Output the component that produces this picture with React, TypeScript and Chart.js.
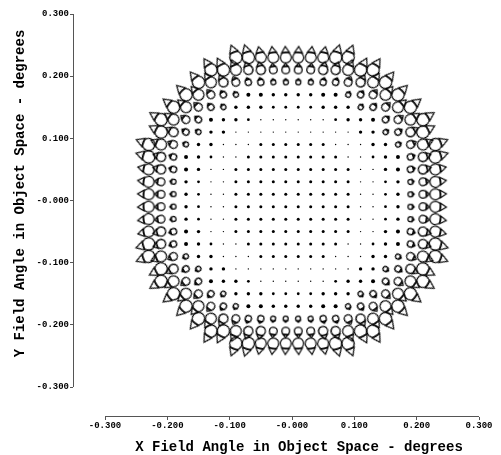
import { useEffect, useRef } from "react";
import { Chart, registerables } from "chart.js";

Chart.register(...registerables);

// Field points (degrees) of the spot-diagram grid
const fieldCols = [
  -0.23, -0.21, -0.19, -0.17, -0.15, -0.13, -0.11, -0.09, -0.07, -0.05, -0.03, -0.01,
  0.01, 0.03, 0.05, 0.07, 0.09, 0.11, 0.13, 0.15, 0.17, 0.19, 0.21, 0.23,
];
const fieldRows = [
  0.23, 0.21, 0.19, 0.17, 0.15, 0.13, 0.11, 0.09, 0.07, 0.05, 0.03, 0.01,
  -0.01, -0.03, -0.05, -0.07, -0.09, -0.11, -0.13, -0.15, -0.17, -0.19, -0.21, -0.23,
];
// largest |x| field value present in each row (same order as fieldRows)
const rowHalfWidth = [
  0.09, 0.13, 0.15, 0.17, 0.19, 0.21, 0.21, 0.23, 0.23, 0.23, 0.23, 0.23,
  0.23, 0.23, 0.23, 0.23, 0.23, 0.21, 0.21, 0.19, 0.17, 0.15, 0.13, 0.09,
];

// Spot appearance by field radius band (upper bound of band, degrees)
const bandUpper = [0.11, 0.145, 0.155, 0.175, 0.185, 0.195, 0.205, 0.215, 0.225, 0.237, 0.26];
const bandSpotRadius = [1.5, 0.7, 1.4, 1.7, 2.0, 2.5, 3.1, 3.8, 4.6, 5.5, 6.2];
const bandTailLength = [0, 0, 0, 0, 0, 1.2, 1.8, 2.6, 3.8, 5.5, 7.0];
const bandOpenRing = [false, false, false, false, false, true, true, true, true, true, true];

const xTickValues = [-0.3, -0.2, -0.1, 0, 0.1, 0.2, 0.3];
const xTickLabels = ["-0.300", "-0.200", "-0.100", "-0.000", "0.100", "0.200", "0.300"];
const yTickValues = [-0.3, -0.2, -0.1, 0, 0.1, 0.2, 0.3];
const yTickLabels = ["-0.300", "-0.200", "-0.100", "-0.000", "0.100", "0.200", "0.300"];

const xTitle = "X Field Angle in Object Space - degrees";
const yTitle = "Y Field Angle in Object Space - degrees";

const FONT = '"Courier New", "Liberation Mono", monospace';
const AXIS_COLOR = "#555555";

function makeComet(R: number, T: number): HTMLCanvasElement {
  const ext = R + T + 2;
  const s = Math.ceil(ext * 2);
  const c = document.createElement("canvas");
  c.width = s;
  c.height = s;
  const g = c.getContext("2d")!;
  g.translate(s / 2, s / 2);
  g.strokeStyle = "#000";
  g.lineWidth = 1.25;
  g.beginPath();
  g.arc(0, 0, R, 0, Math.PI * 2);
  g.stroke();
  if (T > 0) {
    const bx = R * 0.88;
    const bh = Math.max(R * 0.72, 1);
    g.beginPath();
    g.moveTo(R + T, 0);
    g.lineTo(bx, bh);
    g.lineTo(bx, -bh);
    g.closePath();
    g.stroke();
  }
  return c;
}

function bandOf(r: number): number {
  for (let i = 0; i < bandUpper.length; i++) if (r <= bandUpper[i]) return i;
  return bandUpper.length - 1;
}

const labelFor = (vals: number[], labels: string[]) => (v: any) => {
  const i = vals.findIndex((t) => Math.abs(t - Number(v)) < 1e-9);
  return i >= 0 ? labels[i] : "";
};

export default function App() {
  const ref = useRef<HTMLCanvasElement | null>(null);

  useEffect(() => {
    if (!ref.current) return;
    const images = bandSpotRadius.map((R, i) => (bandOpenRing[i] ? makeComet(R, bandTailLength[i]) : null));

    const points: { x: number; y: number }[] = [];
    const styles: any[] = [];
    const radii: number[] = [];
    const rots: number[] = [];
    fieldRows.forEach((y, ri) => {
      fieldCols.forEach((x) => {
        if (Math.abs(x) > rowHalfWidth[ri] + 1e-9) return;
        const b = bandOf(Math.hypot(x, y));
        points.push({ x, y });
        if (bandOpenRing[b]) {
          styles.push(images[b]);
          radii.push(3);
        } else {
          styles.push("circle");
          radii.push(bandSpotRadius[b]);
        }
        rots.push((Math.atan2(-y, x) * 180) / Math.PI);
      });
    });

    const decor = {
      id: "decor",
      afterDraw(chart: any) {
        const { ctx } = chart;
        const xs = chart.scales.x;
        const ys = chart.scales.y;
        const area = chart.chartArea;
        ctx.save();
        ctx.strokeStyle = AXIS_COLOR;
        ctx.lineWidth = 1;
        ctx.beginPath();
        const ax = Math.round(area.left) + 0.5;
        ctx.moveTo(ax, ys.getPixelForValue(0.3));
        ctx.lineTo(ax, ys.getPixelForValue(-0.3));
        const ay = Math.round(area.bottom) - 0.5;
        ctx.moveTo(xs.getPixelForValue(-0.3), ay);
        ctx.lineTo(xs.getPixelForValue(0.3), ay);
        ctx.stroke();

        ctx.fillStyle = "#000";
        ctx.font = `bold 14px ${FONT}`;
        ctx.textAlign = "center";
        ctx.textBaseline = "middle";
        const xc = (xs.getPixelForValue(-0.3) + xs.getPixelForValue(0.3)) / 2 + 7;
        ctx.fillText(xTitle, xc, area.bottom + 30);
        const yc = (ys.getPixelForValue(-0.3) + ys.getPixelForValue(0.3)) / 2 - 7;
        ctx.translate(20, yc);
        ctx.rotate(-Math.PI / 2);
        ctx.fillText(yTitle, 0, 0);
        ctx.restore();
      },
    };

    const tickFont = { family: FONT, size: 9, weight: "bold" as const };

    const chart = new Chart(ref.current, {
      type: "scatter",
      data: {
        datasets: [
          {
            data: points,
            pointStyle: styles,
            pointRadius: radii,
            pointRotation: rots,
            pointBackgroundColor: "#000",
            pointBorderColor: "#000",
            pointBorderWidth: 0,
            showLine: false,
          } as any,
        ],
      },
      options: {
        responsive: false,
        animation: false,
        events: [],
        layout: { padding: { left: 0, right: 22, top: 14, bottom: 0 } },
        plugins: { legend: { display: false }, tooltip: { enabled: false } },
        scales: {
          x: {
            type: "linear",
            min: -0.3 - 32 / 623.33,
            max: 0.3,
            afterFit: (s: any) => {
              s.height = 38;
            },
            afterBuildTicks: (s: any) => {
              s.ticks = xTickValues.map((v) => ({ value: v }));
            },
            grid: { drawOnChartArea: false, drawTicks: true, tickLength: 3, color: AXIS_COLOR },
            border: { display: false },
            ticks: {
              font: tickFont,
              color: "#000",
              padding: 0,
              maxRotation: 0,
              autoSkip: false,
              callback: labelFor(xTickValues, xTickLabels),
            },
          },
          y: {
            type: "linear",
            min: -0.3 - 30 / 621.67,
            max: 0.3,
            afterFit: (s: any) => {
              s.width = 73;
            },
            afterBuildTicks: (s: any) => {
              s.ticks = yTickValues.map((v) => ({ value: v }));
            },
            grid: { drawOnChartArea: false, drawTicks: true, tickLength: 3, color: AXIS_COLOR },
            border: { display: false },
            ticks: {
              font: tickFont,
              color: "#000",
              padding: 1,
              autoSkip: false,
              callback: labelFor(yTickValues, yTickLabels),
            },
          },
        },
      },
      plugins: [decor],
    });
    return () => chart.destroy();
  }, []);

  return (
    <div style={{ position: "absolute", left: 0, top: 0, width: 501, height: 455, background: "#fff" }}>
      <canvas ref={ref} width={501} height={455} style={{ display: "block" }} />
    </div>
  );
}
